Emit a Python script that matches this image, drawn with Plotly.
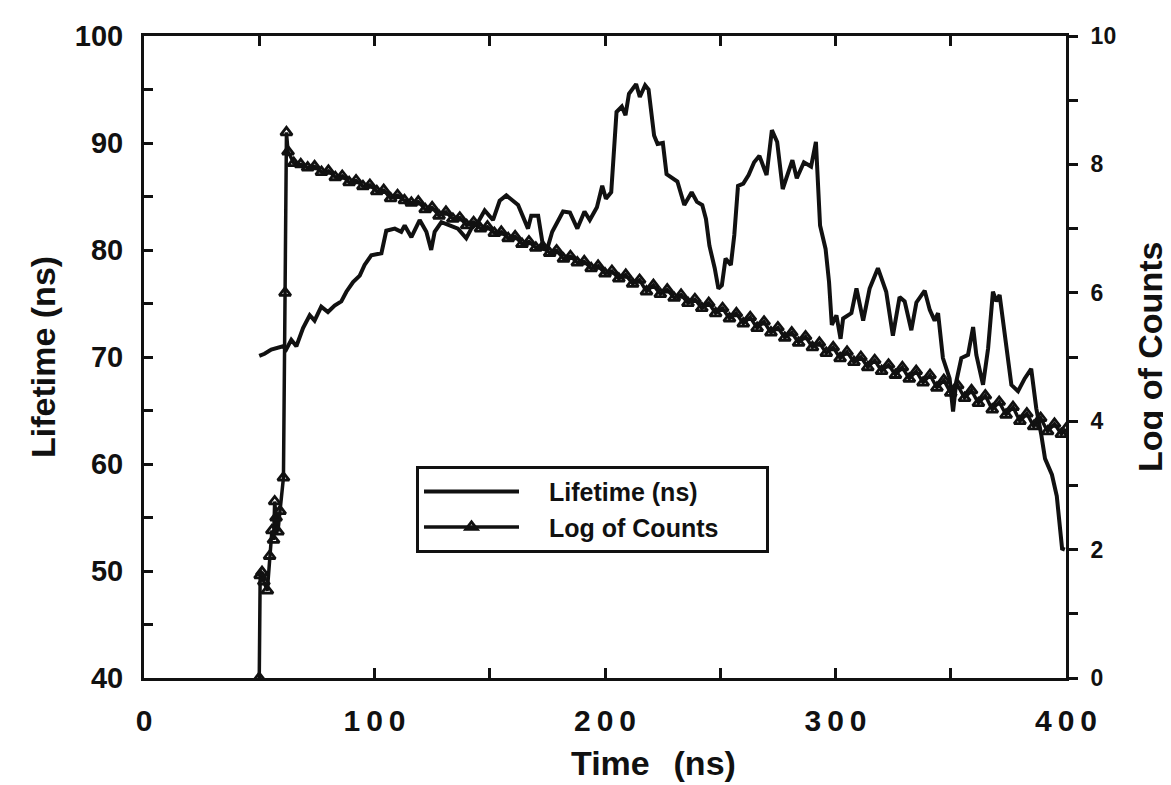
import plotly.graph_objects as go

# ---------------- data ----------------
time_lifetime = [50, 52.3, 55.2, 58, 60.3, 61.7, 63.9, 66.1, 69, 71.9, 74, 76.9, 79.8, 82.7, 85.6,
                 87.8, 90.7, 93.6, 95.7, 98.6, 103, 105.1, 108.8, 111.6, 113.1, 116, 119.6, 122.5,
                 124.6, 126.1, 129, 132.6, 136.2, 139.8, 142, 144.9, 147.8, 151.4, 154.3, 157.2,
                 162.3, 166.6, 168, 171, 173.3, 174.8, 177.1, 181.8, 184.8, 188, 191.1, 193.4,
                 196.5, 198.8, 200.4, 202.7, 205, 207.3, 208.9, 210.4, 213.5, 215.1, 217.4, 218.9,
                 221.3, 222.8, 225.1, 226.7, 229, 231.4, 234.4, 237.6, 239.9, 242.2, 243.8, 245.3,
                 247.6, 249.2, 250.7, 252.3, 254.6, 256.1, 257.7, 260, 262.3, 264.7, 267, 270.1,
                 272.4, 274.7, 277.1, 279.4, 281.3, 283.2, 286.3, 289.4, 291.5, 293.3, 295.7, 297.2,
                 298.4, 300.4, 302.2, 303.3, 306.9, 309.1, 312, 314.8, 318.4, 322, 324.9, 327.8,
                 330, 332.9, 335.1, 338.7, 340.9, 343, 344.5, 346.6, 349.5, 351, 352.4, 354.6,
                 357.5, 359.7, 361.1, 364, 366.2, 368.3, 369.8, 371.2, 373.4, 376.3, 379.2, 382.1,
                 384.9, 387.1, 389.3, 390.9, 393.9, 396, 398.3, 399.5]
lifetime_ns = [70.1, 70.3, 70.7, 70.9, 71.0, 70.7, 71.6, 71.0, 72.7, 73.9, 73.4, 74.7, 74.2, 74.8,
               75.2, 76.1, 77.0, 77.6, 78.6, 79.5, 79.7, 81.8, 82.0, 81.7, 82.3, 81.2, 82.8, 81.7,
               80.0, 81.7, 82.6, 82.3, 82.0, 81.1, 82.0, 82.6, 83.7, 82.8, 84.6, 85.1, 84.2, 82.0,
               83.2, 83.2, 80.1, 80.0, 81.7, 83.6, 83.5, 82.0, 83.6, 82.8, 84.0, 86.0, 84.8, 85.4,
               92.9, 93.4, 92.6, 94.6, 95.5, 94.3, 95.4, 95.0, 90.7, 89.9, 90.0, 87.1, 86.8, 86.4,
               84.2, 85.4, 84.5, 84.2, 82.9, 80.4, 78.3, 76.4, 76.7, 79.2, 78.6, 81.4, 86.0, 86.2,
               87.0, 88.2, 88.8, 87.0, 91.2, 90.1, 85.7, 87.3, 88.4, 86.7, 88.2, 87.8, 90.1, 82.3,
               80.1, 77.0, 73.0, 73.9, 71.7, 73.6, 74.1, 76.4, 73.4, 76.4, 78.3, 76.1, 72.0, 75.6,
               75.2, 72.5, 75.1, 76.2, 74.4, 73.4, 74.1, 69.9, 68.0, 64.9, 67.7, 69.9, 70.2, 72.8,
               70.2, 67.4, 70.8, 76.1, 75.2, 75.8, 72.4, 67.4, 66.8, 68.0, 68.9, 65.2, 62.7, 60.5,
               59.0, 57.0, 52.1, 52.0]

time_counts = [50, 50.4, 51.2, 52, 53.5, 54.5, 55.5, 56.2, 56.7, 57.3, 58.1, 59, 60.5, 61.2, 61.8,
               62.5, 65, 68, 71, 74, 77, 80, 83, 86, 89, 92, 95, 98, 101, 104, 107, 110, 113, 116,
               119, 122, 125, 128, 131, 134, 137, 140, 143, 146, 149, 152, 155, 158, 161, 164, 167,
               170, 173, 176, 179, 182, 185, 188, 191, 194, 197, 200, 203, 206, 209, 212, 215, 218,
               221, 224, 227, 230, 233, 236, 239, 242, 245, 248, 251, 254, 257, 260, 263, 266, 269,
               272, 275, 278, 281, 284, 287, 290, 293, 296, 299, 302, 305, 308, 311, 314, 317, 320,
               323, 326, 329, 332, 335, 338, 341, 344, 347, 350, 353, 356, 359, 362, 365, 368, 371,
               374, 377, 380, 383, 386, 389, 392, 395, 398, 400]
log_counts = [0.0, 1.6, 1.65, 1.5, 1.36, 1.9, 2.3, 2.15, 2.75, 2.5, 2.28, 2.6, 3.12, 6.0, 8.5,
              8.2, 8.02, 8.00, 7.95, 7.97, 7.88, 7.90, 7.80, 7.82, 7.72, 7.75, 7.66, 7.68, 7.58,
              7.60, 7.47, 7.52, 7.44, 7.40, 7.42, 7.30, 7.33, 7.20, 7.26, 7.15, 7.17, 7.05, 7.10,
              7.00, 7.03, 6.93, 6.95, 6.85, 6.88, 6.76, 6.80, 6.70, 6.72, 6.62, 6.66, 6.53, 6.57,
              6.47, 6.49, 6.38, 6.42, 6.30, 6.34, 6.22, 6.28, 6.14, 6.20, 6.02, 6.12, 5.98, 6.05,
              5.92, 5.97, 5.84, 5.90, 5.76, 5.84, 5.68, 5.76, 5.60, 5.68, 5.52, 5.62, 5.45, 5.55,
              5.38, 5.46, 5.30, 5.38, 5.22, 5.32, 5.15, 5.22, 5.06, 5.15, 4.98, 5.08, 4.92, 5.00,
              4.84, 4.95, 4.78, 4.88, 4.72, 4.84, 4.66, 4.78, 4.60, 4.72, 4.52, 4.64, 4.44, 4.56,
              4.36, 4.48, 4.28, 4.40, 4.18, 4.30, 4.10, 4.22, 4.00, 4.12, 3.92, 4.05, 3.84, 3.96,
              3.80, 3.88]

x_tick_vals = [0, 50, 100, 150, 200, 250, 300, 350, 400]
x_tick_text = ["0", "", "1\u20090\u20090", "", "2\u20090\u20090", "", "3\u20090\u20090", "",
               "4\u20090\u20090"]
y_tick_vals = [40, 45, 50, 55, 60, 65, 70, 75, 80, 85, 90, 95, 100]
y_tick_text = ["40", "", "50", "", "60", "", "70", "", "80", "", "90", "", "100"]
y2_tick_vals = [0, 1, 2, 3, 4, 5, 6, 7, 8, 9, 10]
y2_tick_text = ["0", "", "2", "", "4", "", "6", "", "8", "", "10"]

FONT = "Liberation Sans, Arial, Helvetica, sans-serif"
INK = "#111111"
PAD = "\u2002\u2002"

fig = go.Figure()
fig.add_trace(go.Scatter(
    x=time_lifetime, y=lifetime_ns, name=PAD + "Lifetime (ns)", mode="lines",
    line=dict(color=INK, width=4), yaxis="y"))
fig.add_trace(go.Scatter(
    x=time_counts, y=log_counts, name=PAD + "Log of Counts" + "\u00a0" * 6,
    mode="lines+markers",
    line=dict(color=INK, width=3.5),
    marker=dict(symbol="triangle-up-open", size=10, color=INK, line=dict(width=2.8, color=INK)),
    yaxis="y2"))

W, H = 1171, 785
L, R, T, B = 136, 1058, 26, 670
pw, ph = R - L, B - T

def px_x(p):
    return (p - L) / pw

def px_y(p):
    return (B - p) / ph

axis_common = dict(showgrid=False, zeroline=False, showline=True, linecolor=INK, linewidth=3,
                   tickcolor=INK, tickwidth=3)

fig.update_layout(
    width=W, height=H,
    margin=dict(l=L, r=W - R, t=T, b=H - B),
    paper_bgcolor="white", plot_bgcolor="white",
    font=dict(family=FONT, color=INK, weight="bold"),
    xaxis=dict(range=[0, 400], tickvals=x_tick_vals, ticktext=x_tick_text, ticks="inside",
               ticklen=10, mirror="ticks", ticklabelstandoff=14,
               tickfont=dict(size=30, family=FONT, weight="bold", color=INK), **axis_common),
    yaxis=dict(range=[40, 100], tickvals=y_tick_vals, ticktext=y_tick_text, ticks="inside",
               ticklen=9, ticklabelstandoff=12,
               tickfont=dict(size=29, family=FONT, weight="bold", color=INK), **axis_common),
    yaxis2=dict(range=[0, 10], overlaying="y", side="right", anchor="x", tickvals=y2_tick_vals,
                ticktext=y2_tick_text, ticks="outside", ticklen=9, ticklabelstandoff=8,
                tickfont=dict(size=23, family=FONT, weight="bold", color=INK), **axis_common),
    showlegend=True,
    legend=dict(x=px_x(408), y=px_y(457), xanchor="left", yanchor="top",
                bgcolor="white", bordercolor=INK, borderwidth=3,
                font=dict(size=25, family=FONT, weight="bold", color=INK),
                itemwidth=95, tracegroupgap=4),
    annotations=[
        dict(text="Lifetime (ns)", textangle=-90, x=px_x(35), y=0.5, xref="paper", yref="paper",
             showarrow=False, xanchor="center", yanchor="middle",
             font=dict(size=34, family=FONT, weight="bold", color=INK)),
        dict(text="Log of Counts", textangle=-90, x=px_x(1142), y=0.5, xref="paper", yref="paper",
             showarrow=False, xanchor="center", yanchor="middle",
             font=dict(size=34, family=FONT, weight="bold", color=INK)),
        dict(text="Time\u2002\u2009(ns)", x=px_x(645), y=px_y(755), xref="paper", yref="paper",
             showarrow=False, xanchor="center", yanchor="middle",
             font=dict(size=34, family=FONT, weight="bold", color=INK)),
    ],
)

fig.write_html("out.html")
